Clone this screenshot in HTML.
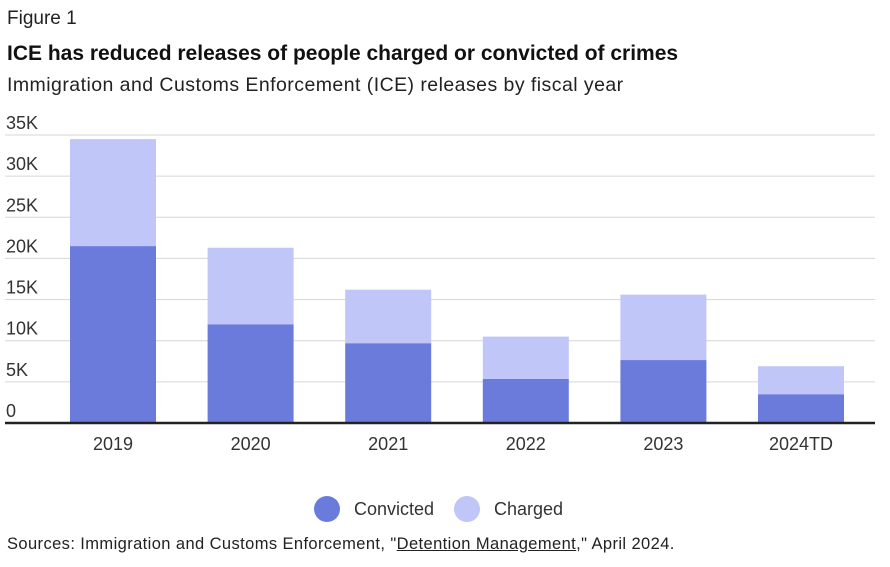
<!DOCTYPE html>
<html><head><meta charset="utf-8"><style>
body{margin:0;background:#fff;font-family:"Liberation Sans",sans-serif;color:#222;}
#wrap{position:relative;width:890px;height:567px;overflow:hidden;}
.t{position:absolute;white-space:nowrap;}
</style></head><body>
<div id="wrap">
<div class="t" style="left:7px;top:8px;font-size:19px;">Figure 1</div>
<div class="t" style="left:7px;top:42px;font-size:21px;font-weight:bold;color:#111;">ICE has reduced releases of people charged or convicted of crimes</div>
<div class="t" style="left:7px;top:74px;font-size:19.5px;letter-spacing:0.45px;">Immigration and Customs Enforcement (ICE) releases by fiscal year</div>
<svg id="chart" width="890" height="567" style="position:absolute;left:0;top:0"></svg>
<div class="t" style="left:7px;top:535px;font-size:16.5px;letter-spacing:0.4px;">Sources: Immigration and Customs Enforcement, "<span style="text-decoration:underline">Detention Management</span>," April 2024.</div>
</div>
<script>
const categories=["2019","2020","2021","2022","2023","2024TD"];
const convicted=[21500,12000,9700,5350,7650,3500];
const charged=[13000,9300,6500,5150,7950,3400];
const ticks=[0,5000,10000,15000,20000,25000,30000,35000];
const tickLabels=["0","5K","10K","15K","20K","25K","30K","35K"];
const NS="http://www.w3.org/2000/svg";
const svg=document.getElementById('chart');
const y0=423,pxPer=288/35000;
const y=v=>y0-v*pxPer;
const x=i=>70+i*137.6;
const bw=86;
function mk(t,a){const e=document.createElementNS(NS,t);for(const k in a)e.setAttribute(k,a[k]);svg.appendChild(e);return e;}
ticks.forEach((v,i)=>{
 if(v>0){const l=mk('line',{x1:5,x2:875,y1:y(v),y2:y(v),stroke:'#d6d6d6','stroke-width':1});
 
 }
 const t=mk('text',{x:6,y:y(v)-6,'font-size':18,fill:'#333','font-family':'Liberation Sans, sans-serif'});
 t.textContent=tickLabels[i];
 
 
});
categories.forEach((c,i)=>{
 const r1=mk('rect',{x:x(i),y:y(convicted[i]),width:bw,height:convicted[i]*pxPer,fill:'#6b7bdc'});
 
 
 const tot=convicted[i]+charged[i];
 const r2=mk('rect',{x:x(i),y:y(tot),width:bw,height:charged[i]*pxPer,fill:'#c0c6f7'});
 
 
 const t=mk('text',{x:x(i)+bw/2,y:450,'font-size':18,fill:'#333','text-anchor':'middle','font-family':'Liberation Sans, sans-serif'});
 t.textContent=c;
 
 
});
const ax=mk('line',{x1:5,x2:875,y1:y0,y2:y0,stroke:'#222','stroke-width':2.5});


const leg=[["Convicted","#6b7bdc",327],["Charged","#c0c6f7",467]];
leg.forEach(l=>{
 const c=mk('circle',{cx:l[2],cy:509,r:13,fill:l[1]});
 
 
 const t=mk('text',{x:l[2]+27,y:515,'font-size':18,fill:'#333','font-family':'Liberation Sans, sans-serif'});
 t.textContent=l[0];
 
 
});
</script>
</body></html>
